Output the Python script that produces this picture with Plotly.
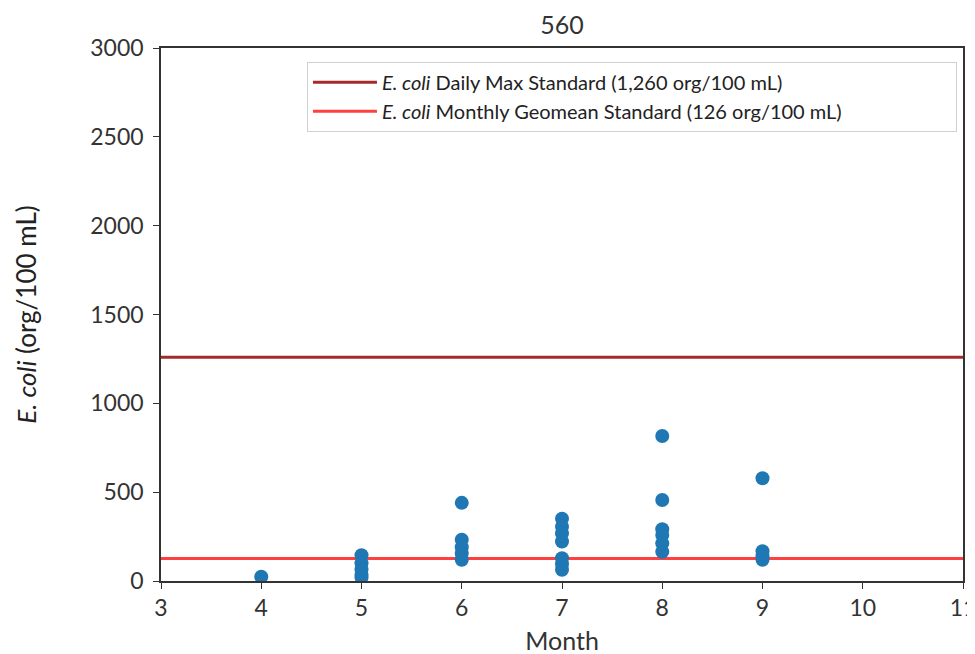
import plotly.graph_objects as go

months = [4, 5, 5, 5, 5, 5, 6, 6, 6, 6, 6, 7, 7, 7, 7, 7, 7, 7, 8, 8, 8, 8, 8, 8, 9, 9, 9, 9]
ecoli = [24, 145, 100, 65, 35, 20, 440, 232, 190, 155, 120, 350, 305, 268, 222, 128, 95, 63,
         816, 456, 291, 259, 212, 165, 578, 168, 140, 120]
daily_max = 1260
geomean = 126
x_range = [3, 11]
y_range = [0, 3000]

fig = go.Figure()
fig.add_trace(go.Scatter(
    x=x_range, y=[daily_max, daily_max], mode="lines",
    line=dict(color="#a52a2a", width=3),
    name="<i>E. coli</i> Daily Max Standard (1,260 org/100 mL)",
))
fig.add_trace(go.Scatter(
    x=x_range, y=[geomean, geomean], mode="lines",
    line=dict(color="rgba(255,0,0,0.75)", width=3),
    name="<i>E. coli</i> Monthly Geomean Standard (126 org/100 mL)",
))
fig.add_trace(go.Scatter(
    x=months, y=ecoli, mode="markers",
    marker=dict(color="#1f77b4", size=14),
    showlegend=False,
))

axis_common = dict(
    showgrid=False, zeroline=False, showline=True, linecolor="#333333", linewidth=1.5,
    mirror=True, ticks="outside", ticklen=6, tickcolor="#333333", automargin=False,
    tickfont=dict(family="Lato", size=23, color="#333333"),
)

fig.update_layout(
    width=975, height=654,
    paper_bgcolor="white", plot_bgcolor="white",
    margin=dict(l=153, r=20, t=40, b=81),
    title=dict(text="560", x=0.5, xref="paper", xanchor="center", y=0.974, yanchor="middle",
               font=dict(family="Lato", size=25, color="#333333")),
    xaxis=dict(range=x_range, dtick=1, tick0=3,
               title=dict(text="Month", font=dict(family="Lato", size=25, color="#333333"), standoff=12),
               **axis_common),
    yaxis=dict(range=y_range, dtick=500, tick0=0, ticklabelstandoff=5,
               title=dict(text="<i>E. coli</i> (org/100 mL)", font=dict(family="Lato", size=26, color="#222222"), standoff=46),
               **axis_common),
    legend=dict(x=0.182, y=0.974, xanchor="left", yanchor="top",
                orientation="h", entrywidth=569, entrywidthmode="pixels",
                bordercolor="#d0d0d0", borderwidth=1, bgcolor="white",
                font=dict(family="Lato", size=20, color="#222222"),
                itemwidth=64),
)

fig.write_html("out.html")
